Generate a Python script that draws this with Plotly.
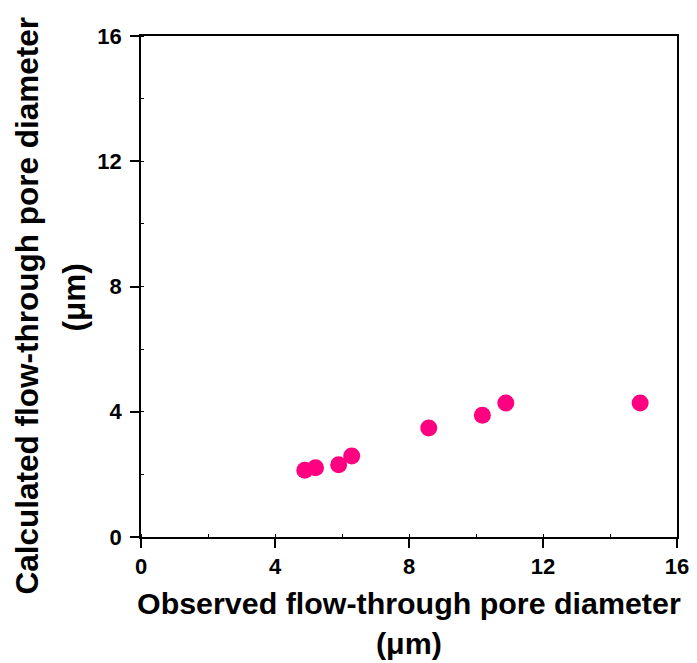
import plotly.graph_objects as go

observed = [4.89, 5.21, 5.90, 6.29, 8.59, 10.19, 10.89, 14.90]
calculated = [2.13, 2.21, 2.31, 2.59, 3.48, 3.89, 4.28, 4.28]
tick_vals = [0, 4, 8, 12, 16]
tick_text = ["0", "4", "8", "12", "16"]
x_title_lines = ["Observed flow-through pore diameter", "(μm)"]
y_title_lines = ["Calculated flow-through pore diameter", "(μm)"]

FONT = "Arial, Liberation Sans, sans-serif"

fig = go.Figure()
fig.add_trace(go.Scatter(
    x=observed, y=calculated, mode="markers",
    marker=dict(color="#FF0080", size=17, line=dict(width=0)),
    showlegend=False,
))

axis_common = dict(
    range=[0, 16], tickvals=tick_vals, ticktext=tick_text,
    showgrid=False, zeroline=False,
    showline=True, linecolor="black", linewidth=1.5, mirror=True,
    ticks="outside", ticklen=9, tickwidth=1.5, tickcolor="black",
    tickfont=dict(family=FONT, size=22, color="black", weight="bold"),
    minor=dict(ticks="inside", ticklen=3, tickwidth=1, tickcolor="black", dtick=2),
    automargin=False,
)

fig.update_xaxes(**axis_common)
fig.update_yaxes(**axis_common, ticklabelstandoff=4)

x_title_font = dict(family=FONT, size=30.4, color="black", weight="bold")
y_title_font = dict(family=FONT, size=31.5, color="black", weight="bold")
annotations = [
    dict(text=x_title_lines[0], xref="paper", yref="paper", x=0.5, y=0,
         xanchor="center", yanchor="middle", yshift=-66, showarrow=False, font=x_title_font),
    dict(text=x_title_lines[1], xref="paper", yref="paper", x=0.5, y=0,
         xanchor="center", yanchor="middle", yshift=-106, showarrow=False, font=x_title_font),
    dict(text=y_title_lines[0], xref="paper", yref="paper", x=0, y=0.5,
         xanchor="center", yanchor="middle", xshift=-115, yshift=-19, textangle=-90,
         showarrow=False, font=y_title_font),
    dict(text=y_title_lines[1], xref="paper", yref="paper", x=0, y=0.5,
         xanchor="center", yanchor="middle", xshift=-68, yshift=-11, textangle=-90,
         showarrow=False, font=y_title_font),
]

# page body adds an 8px margin, so the figure is 8px smaller and shifted
fig.update_layout(
    width=689, height=655,
    margin=dict(l=133, r=20, t=28, b=126),
    paper_bgcolor="white", plot_bgcolor="white",
    annotations=annotations,
)

fig.write_html("out.html")
